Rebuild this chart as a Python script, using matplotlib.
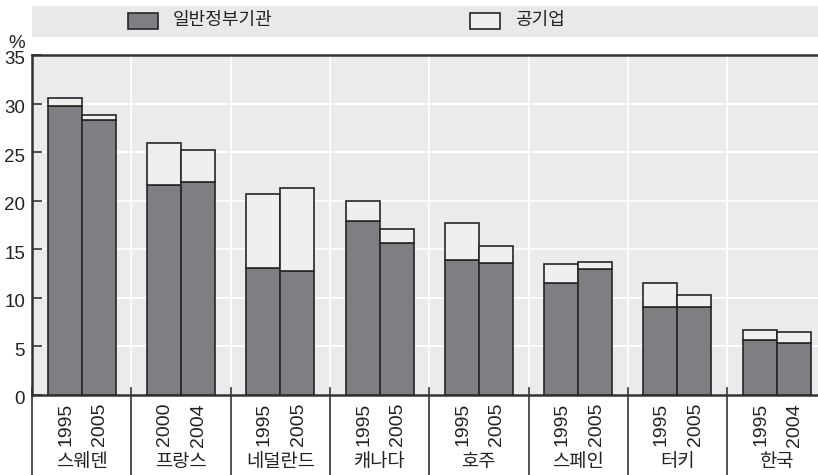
import matplotlib

matplotlib.use("Agg")
import matplotlib.pyplot as plt
import numpy as np
from matplotlib.lines import Line2D
from matplotlib.patches import Rectangle
from matplotlib.transforms import ScaledTranslation, blended_transform_factory

# Latin digits from Liberation Sans, Hangul falls back to Noto Sans CJK KR
plt.rcParams["font.family"] = ["Liberation Sans", "Noto Sans CJK KR", "DejaVu Sans"]

countries = ["스웨덴", "프랑스", "네덜란드", "캐나다", "호주", "스페인", "터키", "한국"]
years = [("1995", "2005"), ("2000", "2004"), ("1995", "2005"), ("1995", "2005"),
         ("1995", "2005"), ("1995", "2005"), ("1995", "2005"), ("1995", "2004")]
# share of total employment, %: (first year, second year) per country
general_gov = [(29.7, 28.3), (21.6, 21.9), (13.1, 12.8), (17.9, 15.6),
               (13.9, 13.6), (11.5, 13.0), (9.1, 9.1), (5.7, 5.4)]
public_corp = [(0.9, 0.5), (4.3, 3.3), (7.6, 8.5), (2.1, 1.5),
               (3.8, 1.7), (2.0, 0.7), (2.4, 1.2), (1.0, 1.1)]
yticks = [0, 5, 10, 15, 20, 25, 30, 35]

DARK = "#7e7f83"
LIGHT = "#efeff0"
EDGE = "#262626"
BG = "#ebebed"
TXT = "#222222"

W, H = 818, 475
fig = plt.figure(figsize=(W / 100, H / 100), dpi=100)
ax = fig.add_axes([32 / W, 80 / H, (W - 32) / W, 340 / H])
ax.set_facecolor(BG)

n = len(countries)
bw = 0.342
gov = np.array(general_gov)
pub = np.array(public_corp)
for j, off in enumerate((-bw / 2, bw / 2)):
    x = np.arange(n) + off
    ax.bar(x, gov[:, j], bw, color=DARK, edgecolor=EDGE, linewidth=1.2, zorder=3)
    ax.bar(x, pub[:, j], bw, bottom=gov[:, j], color=LIGHT, edgecolor=EDGE,
           linewidth=1.2, zorder=3)

ax.set_xlim(-0.5, (W - 32) / 99.3 - 0.5)
ax.set_ylim(0, 35)
ax.set_yticks(yticks)
ax.tick_params(axis="y", direction="in", length=7, width=1.2, color="#333333",
               labelsize=13.5, pad=5, labelcolor=TXT)
ax.set_xticks([])
shift = ScaledTranslation(0, -3 / 100, fig.dpi_scale_trans)
for lbl in ax.get_yticklabels():
    lbl.set_transform(lbl.get_transform() + shift)

# white grid: horizontal at ticks, vertical between country groups
for yv in yticks[1:-1]:
    ax.axhline(yv, color="white", linewidth=1.3, zorder=1)
for xb in np.arange(n - 1) + 0.5:
    ax.axvline(xb, color="white", linewidth=1.3, zorder=1)

for side in ("top", "bottom", "left"):
    ax.spines[side].set_linewidth(1.8)
    ax.spines[side].set_color("#333333")
ax.spines["right"].set_visible(False)

# group separators below the axis
trans = blended_transform_factory(ax.transData, ax.transAxes)
for xb in np.arange(n) - 0.5:
    ax.add_line(Line2D([xb, xb], [7 / 340, -82 / 340], transform=trans,
                       color="#333333", linewidth=1.2, clip_on=False, zorder=4))

for i in range(n):
    for j, off in enumerate((-bw / 2, bw / 2)):
        ax.text(i + off + 0.01, -8 / 340, years[i][j], transform=trans, rotation=90,
                ha="center", va="top", fontsize=14, color=TXT)
    ax.text(i, -68 / 340, countries[i], transform=trans, ha="center",
            va="center", fontsize=13.5, color=TXT)

fig.text(17 / W, 1 - 43 / H, "%", ha="center", va="center", fontsize=13.5,
         color=TXT)

# legend band
fig.patches.append(Rectangle((32 / W, 1 - 37 / H), 1 - 32 / W, 31 / H,
                             transform=fig.transFigure, facecolor="#e9e9eb",
                             edgecolor="none", zorder=0))
for x0, color, label in ((128, DARK, "일반정부기관"), (470, LIGHT, "공기업")):
    fig.patches.append(Rectangle((x0 / W, 1 - 29 / H), 30 / W, 16 / H,
                                 transform=fig.transFigure, facecolor=color,
                                 edgecolor=EDGE, linewidth=1.2, zorder=2))
    fig.text((x0 + 45) / W, 1 - 21 / H, label, ha="left", va="center",
             fontsize=13, color=TXT)

fig.savefig("out.png", dpi=100)
